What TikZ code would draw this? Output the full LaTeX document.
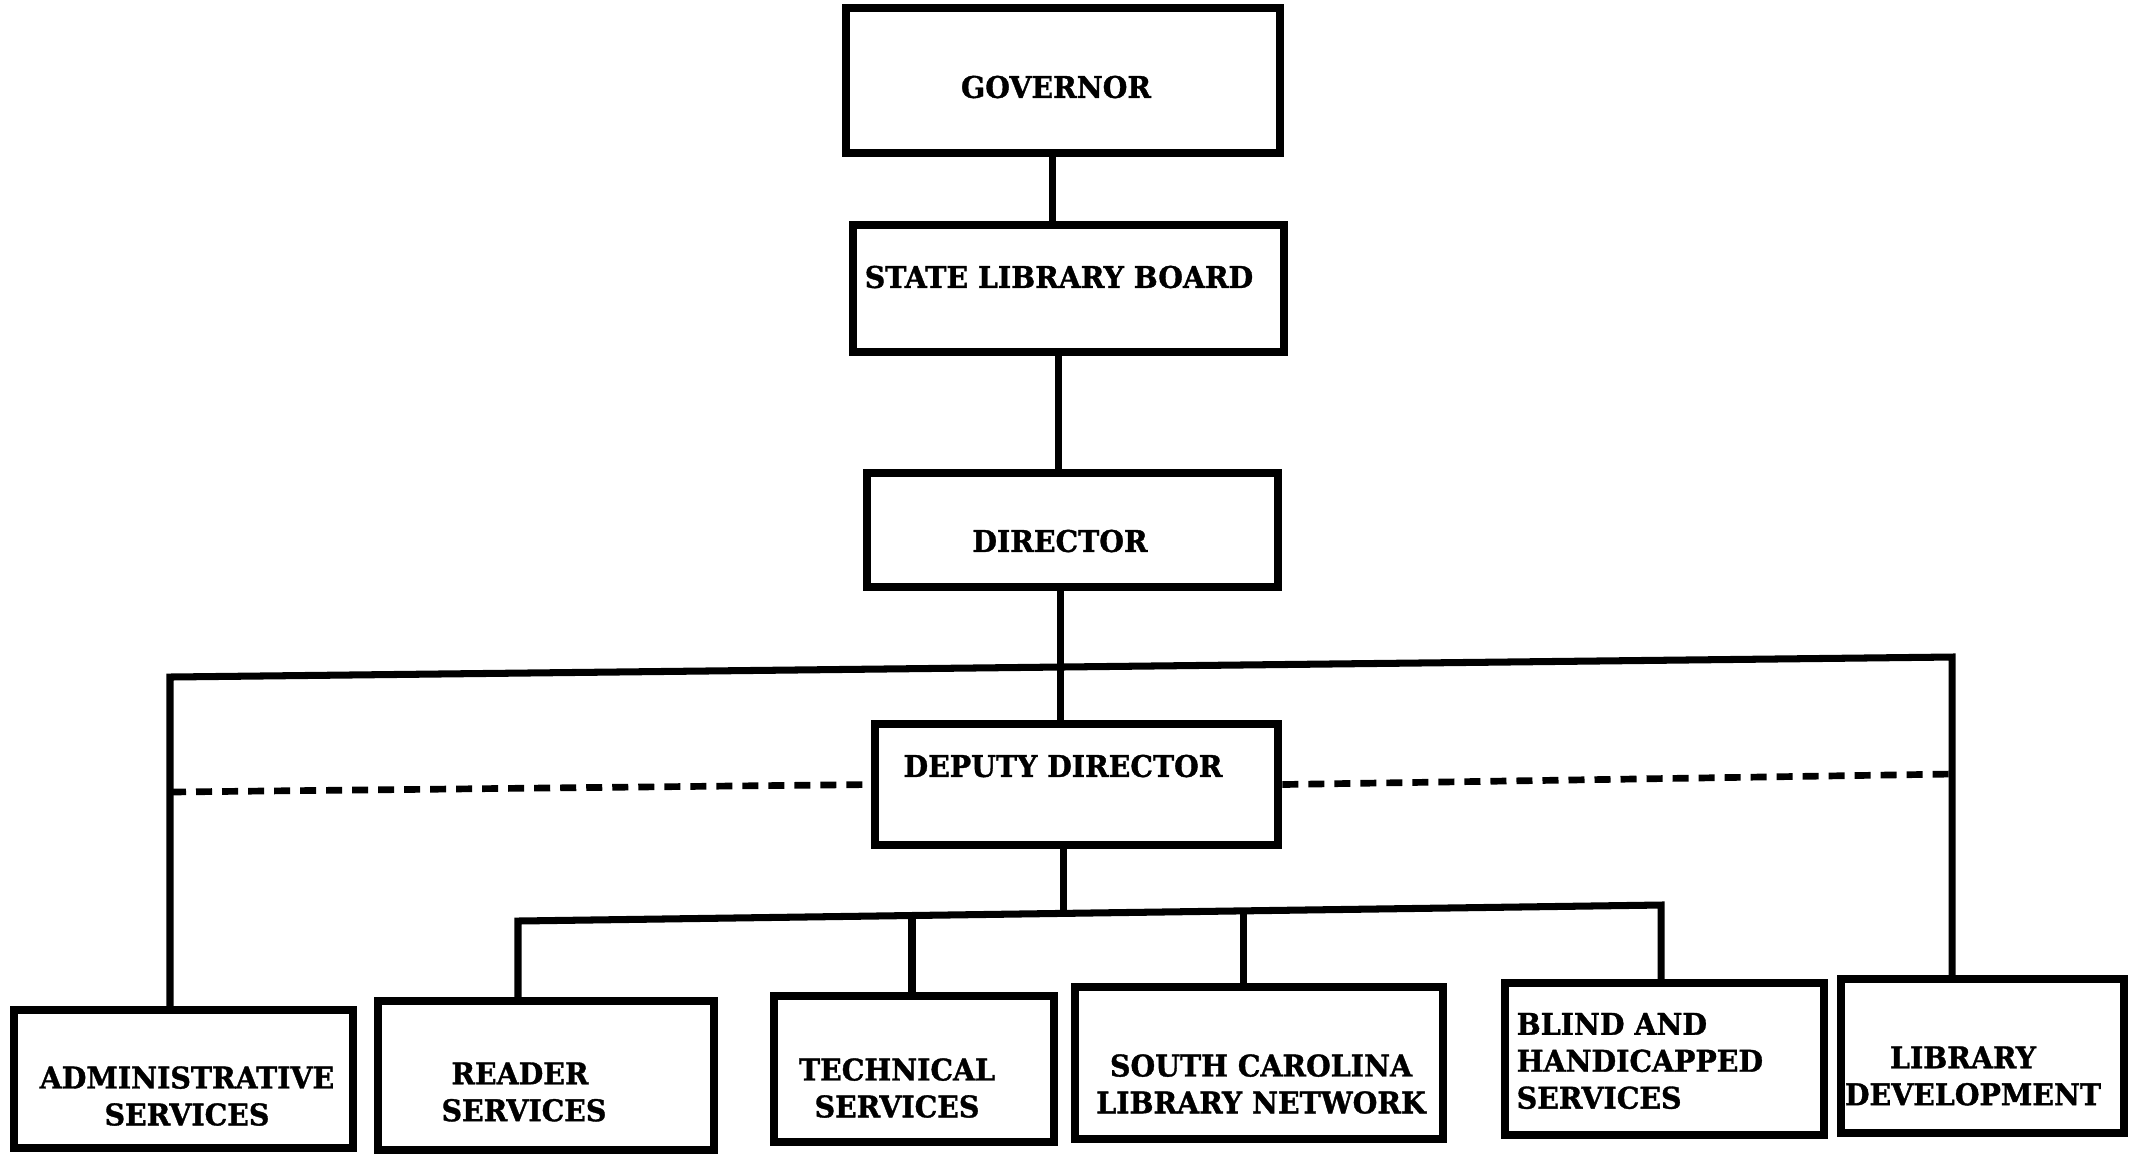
\documentclass[tikz,border=0pt]{standalone}
\usepackage{fontspec}
\setmainfont{DejaVu Serif}
\newfontfamily\lblfont[FakeStretch=0.95, BoldFeatures={FakeBold=1.2}]{DejaVu Serif}
\begin{document}
\begin{tikzpicture}[x=0.01cm,y=-0.01cm,
  box/.style={draw, line width=2.4pt, inner sep=0pt, rectangle},
  lbl/.style={inner sep=0pt, align=center, font=\lblfont\bfseries\fontsize{8.5}{10.5}\selectfont},
  conn/.style={line width=2pt},
  dline/.style={line width=1.9pt, dash pattern=on 0.16cm off 0.1cm}]
\useasboundingbox (0,0) rectangle (2137,1153);
% boxes
\node[box, minimum width=4.34cm, minimum height=1.45cm] (gov) at (1063,80.5) {};
\node[box, minimum width=4.31cm, minimum height=1.27cm] (board) at (1068.5,288.5) {};
\node[box, minimum width=4.11cm, minimum height=1.14cm] (dir) at (1072.5,530) {};
\node[box, minimum width=4.03cm, minimum height=1.21cm] (dep) at (1076.5,784.5) {};
\node[box, minimum width=3.39cm, minimum height=1.38cm] (admin) at (183.5,1079) {};
\node[box, minimum width=3.36cm, minimum height=1.49cm] (reader) at (546,1075.5) {};
\node[box, minimum width=2.80cm, minimum height=1.46cm] (tech) at (914,1069) {};
\node[box, minimum width=3.68cm, minimum height=1.52cm] (scn) at (1259,1063) {};
\node[box, minimum width=3.19cm, minimum height=1.52cm] (blind) at (1664.5,1059) {};
\node[box, minimum width=2.83cm, minimum height=1.54cm] (libdev) at (1982.5,1056) {};
% labels
\node[lbl] (tgov) at (1056,87) {GOVERNOR};
\node[lbl] (tboard) at (1059,277) {STATE LIBRARY BOARD};
\node[lbl] (tdir) at (1060,541) {DIRECTOR};
\node[lbl] (tdep) at (1063,766) {DEPUTY DIRECTOR};
\node[lbl] (tadmin) at (187,1096) {ADMINISTRATIVE\\SERVICES};
\node[lbl] (treader) at (524,1092) {READER\kern0.08cm\\SERVICES};
\node[lbl] (ttech) at (897,1088) {TECHNICAL\\SERVICES};
\node[lbl] (tscn) at (1261,1084) {SOUTH CAROLINA\\LIBRARY NETWORK};
\node[lbl, align=left, anchor=west] (tblind) at (1516,1061) {BLIND AND\\HANDICAPPED\\SERVICES};
\node[lbl] (tlibdev) at (1973,1076) {LIBRARY\kern0.2cm\\DEVELOPMENT};
% junction coordinates
\coordinate (j1) at (1052,0);
\coordinate (j2) at (1058,0);
\coordinate (tl) at (170,677);
\coordinate (tm) at (1060,667);
\coordinate (tr) at (1952,657);
\coordinate (dl) at (170,792);
\coordinate (dr) at (1952,774);
\coordinate (b1) at (518,921);
\coordinate (b2) at (912,915.5);
\coordinate (bm) at (1063,913.4);
\coordinate (b3) at (1243,911);
\coordinate (b4) at (1661,905);
% connectors
\draw[conn] (gov.south -| j1) -- (board.north -| j1);
\draw[conn] (board.south -| j2) -- (dir.north -| j2);
\draw[conn] (dir.south -| tm) -- (dep.north -| tm);
\draw[conn] (admin.north -| tl) -- (tl) -- (tr) -- (libdev.north -| tr);
\draw[conn] (dep.south -| bm) -- (bm);
\draw[conn] (reader.north -| b1) -- (b1) -- (b4) -- (blind.north -| b4);
\draw[conn] (b2) -- (tech.north -| b2);
\draw[conn] (b3) -- (scn.north -| b3);
\draw[dline] (dl) -- (dep.west);
\draw[dline] (dep.east) -- (dr);
\end{tikzpicture}
\end{document}
